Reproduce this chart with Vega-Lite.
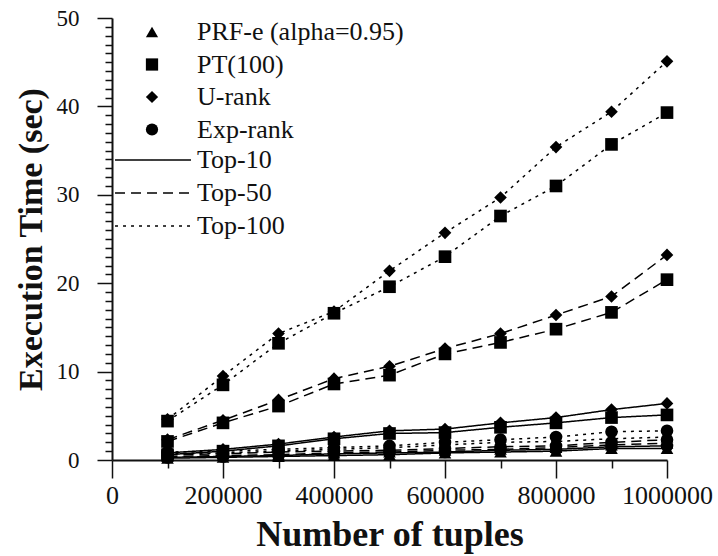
{
  "$schema": "https://vega.github.io/schema/vega-lite/v6.json",
  "width": 555,
  "height": 442,
  "autosize": {"type": "none"},
  "padding": {"left": 112, "top": 18, "right": 51, "bottom": 96},
  "background": "white",
  "config": {"view": {"stroke": null}, "font": "Liberation Serif"},
  "data": {"values": [
    {"tuples":100000,"method":"U-rank","topk":"Top-100","time":4.6},
    {"tuples":200000,"method":"U-rank","topk":"Top-100","time":9.5},
    {"tuples":300000,"method":"U-rank","topk":"Top-100","time":14.3},
    {"tuples":400000,"method":"U-rank","topk":"Top-100","time":16.8},
    {"tuples":500000,"method":"U-rank","topk":"Top-100","time":21.4},
    {"tuples":600000,"method":"U-rank","topk":"Top-100","time":25.7},
    {"tuples":700000,"method":"U-rank","topk":"Top-100","time":29.7},
    {"tuples":800000,"method":"U-rank","topk":"Top-100","time":35.4},
    {"tuples":900000,"method":"U-rank","topk":"Top-100","time":39.4},
    {"tuples":1000000,"method":"U-rank","topk":"Top-100","time":45.1},
    {"tuples":100000,"method":"PT(100)","topk":"Top-100","time":4.4},
    {"tuples":200000,"method":"PT(100)","topk":"Top-100","time":8.5},
    {"tuples":300000,"method":"PT(100)","topk":"Top-100","time":13.2},
    {"tuples":400000,"method":"PT(100)","topk":"Top-100","time":16.6},
    {"tuples":500000,"method":"PT(100)","topk":"Top-100","time":19.6},
    {"tuples":600000,"method":"PT(100)","topk":"Top-100","time":23.0},
    {"tuples":700000,"method":"PT(100)","topk":"Top-100","time":27.6},
    {"tuples":800000,"method":"PT(100)","topk":"Top-100","time":31.0},
    {"tuples":900000,"method":"PT(100)","topk":"Top-100","time":35.7},
    {"tuples":1000000,"method":"PT(100)","topk":"Top-100","time":39.3},
    {"tuples":100000,"method":"U-rank","topk":"Top-50","time":2.3},
    {"tuples":200000,"method":"U-rank","topk":"Top-50","time":4.5},
    {"tuples":300000,"method":"U-rank","topk":"Top-50","time":6.8},
    {"tuples":400000,"method":"U-rank","topk":"Top-50","time":9.2},
    {"tuples":500000,"method":"U-rank","topk":"Top-50","time":10.6},
    {"tuples":600000,"method":"U-rank","topk":"Top-50","time":12.6},
    {"tuples":700000,"method":"U-rank","topk":"Top-50","time":14.3},
    {"tuples":800000,"method":"U-rank","topk":"Top-50","time":16.4},
    {"tuples":900000,"method":"U-rank","topk":"Top-50","time":18.5},
    {"tuples":1000000,"method":"U-rank","topk":"Top-50","time":23.2},
    {"tuples":100000,"method":"PT(100)","topk":"Top-50","time":2.1},
    {"tuples":200000,"method":"PT(100)","topk":"Top-50","time":4.2},
    {"tuples":300000,"method":"PT(100)","topk":"Top-50","time":6.1},
    {"tuples":400000,"method":"PT(100)","topk":"Top-50","time":8.6},
    {"tuples":500000,"method":"PT(100)","topk":"Top-50","time":9.6},
    {"tuples":600000,"method":"PT(100)","topk":"Top-50","time":12.0},
    {"tuples":700000,"method":"PT(100)","topk":"Top-50","time":13.3},
    {"tuples":800000,"method":"PT(100)","topk":"Top-50","time":14.8},
    {"tuples":900000,"method":"PT(100)","topk":"Top-50","time":16.7},
    {"tuples":1000000,"method":"PT(100)","topk":"Top-50","time":20.4},
    {"tuples":100000,"method":"U-rank","topk":"Top-10","time":0.8},
    {"tuples":200000,"method":"U-rank","topk":"Top-10","time":1.2},
    {"tuples":300000,"method":"U-rank","topk":"Top-10","time":1.8},
    {"tuples":400000,"method":"U-rank","topk":"Top-10","time":2.6},
    {"tuples":500000,"method":"U-rank","topk":"Top-10","time":3.3},
    {"tuples":600000,"method":"U-rank","topk":"Top-10","time":3.5},
    {"tuples":700000,"method":"U-rank","topk":"Top-10","time":4.2},
    {"tuples":800000,"method":"U-rank","topk":"Top-10","time":4.8},
    {"tuples":900000,"method":"U-rank","topk":"Top-10","time":5.7},
    {"tuples":1000000,"method":"U-rank","topk":"Top-10","time":6.4},
    {"tuples":100000,"method":"PT(100)","topk":"Top-10","time":0.6},
    {"tuples":200000,"method":"PT(100)","topk":"Top-10","time":1.0},
    {"tuples":300000,"method":"PT(100)","topk":"Top-10","time":1.6},
    {"tuples":400000,"method":"PT(100)","topk":"Top-10","time":2.4},
    {"tuples":500000,"method":"PT(100)","topk":"Top-10","time":3.0},
    {"tuples":600000,"method":"PT(100)","topk":"Top-10","time":3.1},
    {"tuples":700000,"method":"PT(100)","topk":"Top-10","time":3.7},
    {"tuples":800000,"method":"PT(100)","topk":"Top-10","time":4.2},
    {"tuples":900000,"method":"PT(100)","topk":"Top-10","time":4.8},
    {"tuples":1000000,"method":"PT(100)","topk":"Top-10","time":5.1},
    {"tuples":100000,"method":"Exp-rank","topk":"Top-100","time":0.9},
    {"tuples":200000,"method":"Exp-rank","topk":"Top-100","time":1.0},
    {"tuples":300000,"method":"Exp-rank","topk":"Top-100","time":1.2},
    {"tuples":400000,"method":"Exp-rank","topk":"Top-100","time":1.4},
    {"tuples":500000,"method":"Exp-rank","topk":"Top-100","time":1.6},
    {"tuples":600000,"method":"Exp-rank","topk":"Top-100","time":2.0},
    {"tuples":700000,"method":"Exp-rank","topk":"Top-100","time":2.3},
    {"tuples":800000,"method":"Exp-rank","topk":"Top-100","time":2.6},
    {"tuples":900000,"method":"Exp-rank","topk":"Top-100","time":3.2},
    {"tuples":1000000,"method":"Exp-rank","topk":"Top-100","time":3.3},
    {"tuples":100000,"method":"PRF-e (alpha=0.95)","topk":"Top-100","time":0.7},
    {"tuples":200000,"method":"PRF-e (alpha=0.95)","topk":"Top-100","time":0.8},
    {"tuples":300000,"method":"PRF-e (alpha=0.95)","topk":"Top-100","time":1.0},
    {"tuples":400000,"method":"PRF-e (alpha=0.95)","topk":"Top-100","time":1.2},
    {"tuples":500000,"method":"PRF-e (alpha=0.95)","topk":"Top-100","time":1.4},
    {"tuples":600000,"method":"PRF-e (alpha=0.95)","topk":"Top-100","time":1.7},
    {"tuples":700000,"method":"PRF-e (alpha=0.95)","topk":"Top-100","time":2.0},
    {"tuples":800000,"method":"PRF-e (alpha=0.95)","topk":"Top-100","time":2.1},
    {"tuples":900000,"method":"PRF-e (alpha=0.95)","topk":"Top-100","time":2.4},
    {"tuples":1000000,"method":"PRF-e (alpha=0.95)","topk":"Top-100","time":2.6},
    {"tuples":100000,"method":"Exp-rank","topk":"Top-50","time":0.6},
    {"tuples":200000,"method":"Exp-rank","topk":"Top-50","time":0.7},
    {"tuples":300000,"method":"Exp-rank","topk":"Top-50","time":0.9},
    {"tuples":400000,"method":"Exp-rank","topk":"Top-50","time":1.0},
    {"tuples":500000,"method":"Exp-rank","topk":"Top-50","time":1.1},
    {"tuples":600000,"method":"Exp-rank","topk":"Top-50","time":1.3},
    {"tuples":700000,"method":"Exp-rank","topk":"Top-50","time":1.5},
    {"tuples":800000,"method":"Exp-rank","topk":"Top-50","time":1.6},
    {"tuples":900000,"method":"Exp-rank","topk":"Top-50","time":2.0},
    {"tuples":1000000,"method":"Exp-rank","topk":"Top-50","time":2.3},
    {"tuples":100000,"method":"PRF-e (alpha=0.95)","topk":"Top-50","time":0.4},
    {"tuples":200000,"method":"PRF-e (alpha=0.95)","topk":"Top-50","time":0.5},
    {"tuples":300000,"method":"PRF-e (alpha=0.95)","topk":"Top-50","time":0.6},
    {"tuples":400000,"method":"PRF-e (alpha=0.95)","topk":"Top-50","time":0.8},
    {"tuples":500000,"method":"PRF-e (alpha=0.95)","topk":"Top-50","time":0.9},
    {"tuples":600000,"method":"PRF-e (alpha=0.95)","topk":"Top-50","time":1.1},
    {"tuples":700000,"method":"PRF-e (alpha=0.95)","topk":"Top-50","time":1.2},
    {"tuples":800000,"method":"PRF-e (alpha=0.95)","topk":"Top-50","time":1.4},
    {"tuples":900000,"method":"PRF-e (alpha=0.95)","topk":"Top-50","time":1.7},
    {"tuples":1000000,"method":"PRF-e (alpha=0.95)","topk":"Top-50","time":1.9},
    {"tuples":100000,"method":"Exp-rank","topk":"Top-10","time":0.3},
    {"tuples":200000,"method":"Exp-rank","topk":"Top-10","time":0.4},
    {"tuples":300000,"method":"Exp-rank","topk":"Top-10","time":0.5},
    {"tuples":400000,"method":"Exp-rank","topk":"Top-10","time":0.7},
    {"tuples":500000,"method":"Exp-rank","topk":"Top-10","time":0.8},
    {"tuples":600000,"method":"Exp-rank","topk":"Top-10","time":0.9},
    {"tuples":700000,"method":"Exp-rank","topk":"Top-10","time":1.1},
    {"tuples":800000,"method":"Exp-rank","topk":"Top-10","time":1.2},
    {"tuples":900000,"method":"Exp-rank","topk":"Top-10","time":1.5},
    {"tuples":1000000,"method":"Exp-rank","topk":"Top-10","time":1.6},
    {"tuples":100000,"method":"PRF-e (alpha=0.95)","topk":"Top-10","time":0.2},
    {"tuples":200000,"method":"PRF-e (alpha=0.95)","topk":"Top-10","time":0.3},
    {"tuples":300000,"method":"PRF-e (alpha=0.95)","topk":"Top-10","time":0.4},
    {"tuples":400000,"method":"PRF-e (alpha=0.95)","topk":"Top-10","time":0.5},
    {"tuples":500000,"method":"PRF-e (alpha=0.95)","topk":"Top-10","time":0.6},
    {"tuples":600000,"method":"PRF-e (alpha=0.95)","topk":"Top-10","time":0.8},
    {"tuples":700000,"method":"PRF-e (alpha=0.95)","topk":"Top-10","time":0.9},
    {"tuples":800000,"method":"PRF-e (alpha=0.95)","topk":"Top-10","time":1.0},
    {"tuples":900000,"method":"PRF-e (alpha=0.95)","topk":"Top-10","time":1.3},
    {"tuples":1000000,"method":"PRF-e (alpha=0.95)","topk":"Top-10","time":1.3}
  ]},
  "encoding": {
    "x": {
      "field": "tuples", "type": "quantitative",
      "scale": {"domain": [0, 1000000], "nice": false, "zero": true},
      "axis": {
        "title": "Number of tuples",
        "values": [0,100000,200000,300000,400000,500000,600000,700000,800000,900000,1000000],
        "format": "d",
        "labelExpr": "datum.value % 200000 === 0 ? datum.label : ''",
        "tickSize": {"condition": {"test": "datum.value % 200000 === 0", "value": 18}, "value": 8},
        "tickWidth": 1.5, "tickColor": "#111",
        "domainColor": "#111", "domainWidth": 2,
        "grid": false,
        "labelFont": "Liberation Serif", "labelFontSize": 26, "labelColor": "#111",
        "labelPadding": 4, "labelFlush": false, "labelOverlap": false,
        "titleFont": "Liberation Serif", "titleFontWeight": "bold", "titleFontSize": 36, "titleColor": "#111",
        "titlePadding": 9
      }
    },
    "y": {
      "field": "time", "type": "quantitative",
      "scale": {"domain": [0, 50], "nice": false},
      "axis": {
        "title": "Execution Time (sec)",
        "values": [0,1,2,3,4,5,6,7,8,9,10,11,12,13,14,15,16,17,18,19,20,21,22,23,24,25,26,27,28,29,30,31,32,33,34,35,36,37,38,39,40,41,42,43,44,45,46,47,48,49,50],
        "labelExpr": "datum.value % 10 === 0 ? datum.label : ''",
        "tickSize": {"condition": {"test": "datum.value % 10 === 0", "value": 15}, "value": 7},
        "tickWidth": 1.5, "tickColor": "#111",
        "domainColor": "#111", "domainWidth": 2,
        "grid": false,
        "labelFont": "Liberation Serif", "labelFontSize": 23, "labelColor": "#111",
        "labelPadding": 18, "labelOverlap": false,
        "titleFont": "Liberation Serif", "titleFontWeight": "bold", "titleFontSize": 34, "titleColor": "#111",
        "titlePadding": 8
      }
    }
  },
  "layer": [
    {
      "mark": {"type": "line", "color": "black", "strokeWidth": 1.5},
      "encoding": {
        "detail": {"field": "method", "type": "nominal"},
        "strokeDash": {
          "field": "topk", "type": "nominal",
          "scale": {"domain": ["Top-10", "Top-50", "Top-100"], "range": [[1, 0], [10, 6], [3, 5]]},
          "legend": {
            "orient": "none", "legendX": 28, "legendY": 129, "title": null, "padding": 0,
            "symbolType": "M-6.33,0H6.33", "symbolSize": 144, "symbolStrokeWidth": 1.5, "symbolStrokeColor": "black", "symbolFillColor": "transparent",
            "labelOffset": 31, "labelLimit": 400, "labelFont": "Liberation Serif", "labelFontSize": 26, "labelColor": "#111",
            "rowPadding": 7
          }
        }
      }
    },
    {
      "mark": {"type": "point", "filled": true, "color": "black", "opacity": 1, "size": 160},
      "encoding": {
        "shape": {
          "field": "method", "type": "nominal",
          "scale": {"domain": ["PRF-e (alpha=0.95)", "PT(100)", "U-rank", "Exp-rank"], "range": ["triangle-up", "square", "diamond", "circle"]},
          "legend": {
            "orient": "none", "legendX": 27, "legendY": 1, "title": null, "padding": 0,
            "symbolSize": 150, "symbolFillColor": "black", "symbolStrokeColor": "black",
            "labelOffset": 32, "labelLimit": 400, "labelFont": "Liberation Serif", "labelFontSize": 26, "labelColor": "#111",
            "rowPadding": 6.5
          }
        }
      }
    }
  ]
}
